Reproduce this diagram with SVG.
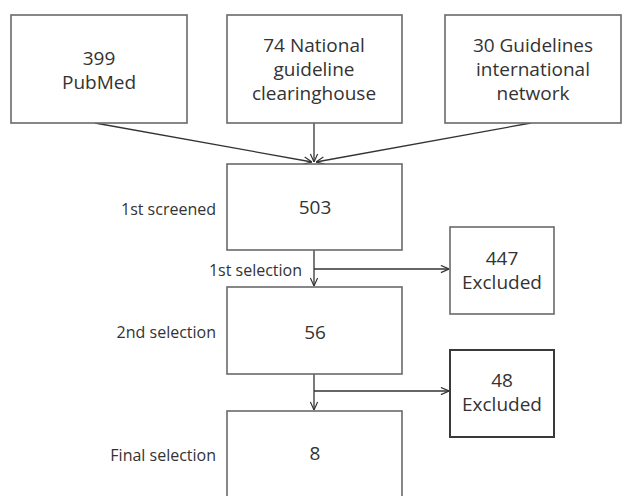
<svg xmlns="http://www.w3.org/2000/svg" width="627" height="496" viewBox="0 0 627 496">
<style>
.box{fill:#fff;stroke:#6a6a6a;stroke-width:1.6}
.boxd{fill:#fff;stroke:#3a3a3a;stroke-width:2}
.t{font-family:"Open Sans","Noto Sans",sans-serif;font-size:19px;fill:#333;text-anchor:middle}
.l{font-family:"Open Sans","Noto Sans",sans-serif;font-size:16px;fill:#333;text-anchor:end}
.c{fill:none;stroke:#333;stroke-width:1.3}
</style>
<defs>
<marker id="a" viewBox="0 0 10 10" refX="10" refY="5" markerWidth="9" markerHeight="9" markerUnits="userSpaceOnUse" orient="auto">
<path d="M1,1 L10,5 L1,9" fill="none" stroke="#333" stroke-width="1.3"/>
</marker>
</defs>
<rect width="627" height="496" fill="#fff"/>
<g id="connectors">
<line class="c" x1="95" y1="123" x2="312" y2="162" marker-end="url(#a)"/>
<line class="c" x1="314" y1="123" x2="314" y2="162" marker-end="url(#a)"/>
<line class="c" x1="531" y1="123" x2="316" y2="162" marker-end="url(#a)"/>
<line class="c" x1="314" y1="250" x2="314" y2="286" marker-end="url(#a)"/>
<line class="c" x1="314" y1="269" x2="449" y2="269" marker-end="url(#a)"/>
<line class="c" x1="314" y1="374" x2="314" y2="410" marker-end="url(#a)"/>
<line class="c" x1="314" y1="391" x2="449" y2="391" marker-end="url(#a)"/>
</g>
<g id="pubmed">
<rect class="box" x="11" y="15" width="176" height="108"/>
<text class="t" x="99" y="65">399</text>
<text class="t" x="99" y="89">PubMed</text>
</g>
<g id="ngc">
<rect class="box" x="227" y="15" width="175" height="108"/>
<text class="t" x="314" y="52">74 National</text>
<text class="t" x="314" y="76">guideline</text>
<text class="t" x="314" y="100">clearinghouse</text>
</g>
<g id="gin">
<rect class="box" x="445" y="15" width="176" height="108"/>
<text class="t" x="533" y="52">30 Guidelines</text>
<text class="t" x="533" y="76">international</text>
<text class="t" x="533" y="100">network</text>
</g>
<g id="screened">
<rect class="box" x="227" y="164" width="175" height="86"/>
<text class="t" x="315" y="214">503</text>
<text class="l" x="216" y="215">1st screened</text>
</g>
<g id="excluded1">
<rect class="box" x="450" y="227" width="104" height="87"/>
<text class="t" x="502" y="265">447</text>
<text class="t" x="502" y="289">Excluded</text>
</g>
<text class="l" x="302" y="276">1st selection</text>
<g id="second">
<rect class="box" x="227" y="287" width="175" height="87"/>
<text class="t" x="315" y="339">56</text>
<text class="l" x="216" y="338">2nd selection</text>
</g>
<g id="excluded2">
<rect class="boxd" x="450" y="350" width="104" height="87"/>
<text class="t" x="502" y="387">48</text>
<text class="t" x="502" y="411">Excluded</text>
</g>
<g id="final">
<rect class="box" x="227" y="411" width="175" height="95"/>
<text class="t" x="315" y="460">8</text>
<text class="l" x="216" y="461">Final selection</text>
</g>
</svg>
